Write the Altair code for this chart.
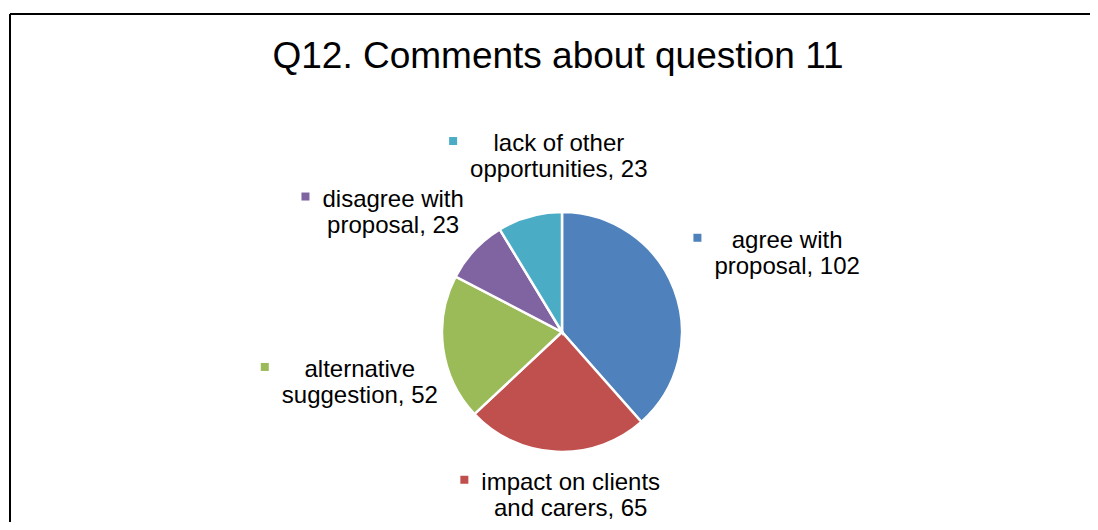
import math
import altair as alt
import pandas as pd

# ---- data ----
title = "Q12. Comments about question 11"
categories = ["agree with proposal", "impact on clients and carers", "alternative suggestion",
              "disagree with proposal", "lack of other opportunities"]
values = [102, 65, 52, 23, 23]
label_line1 = ["agree with", "impact on clients", "alternative", "disagree with", "lack of other"]
label_line2 = ["proposal, 102", "and carers, 65", "suggestion, 52", "proposal, 23", "opportunities, 23"]
colors = ["#4F81BD", "#C0504D", "#9BBB59", "#8064A2", "#4BACC6"]

# ---- layout (label placement as Excel's "best fit") ----
label_radius = [239, 162, 208, 208, 177]
label_nudge_deg = [1.1, -5.8, -5.8, -7.4, 14.6]
CX, CY, R = 554, 324, 120
FONT = "Liberation Sans, Arial, Helvetica, sans-serif"
LABEL_SIZE = 24
LINE_H = 26
WIDTH, HEIGHT = 1082, 514

# Arial / Liberation Sans advance widths (per 1000 em) to place the legend keys
W = {c: 556 for c in "abdeghnopqu0123456789"}
W.update({"c": 500, "k": 500, "s": 500, "v": 500, "x": 500, "y": 500, "z": 500,
          "f": 278, "t": 278, " ": 278, ",": 278, ".": 278,
          "i": 222, "j": 222, "l": 222, "r": 333, "m": 833, "w": 722})


def text_width(s, size):
    return sum(W.get(ch, 556) for ch in s) * size / 1000.0


total = sum(values)
cum = 0.0
rows = []
for i, (cat, v) in enumerate(zip(categories, values)):
    start = cum / total * 360
    cum += v
    end = cum / total * 360
    mid = (start + end) / 2 + label_nudge_deg[i]
    a = math.radians(mid)
    bx = CX + label_radius[i] * math.sin(a)
    by = CY - label_radius[i] * math.cos(a)
    maxw = max(text_width(label_line1[i], LABEL_SIZE), text_width(label_line2[i], LABEL_SIZE))
    rows.append({
        "idx": i, "cat": cat, "value": v,
        "label": label_line1[i] + "\n" + label_line2[i],
        "tx": bx, "ty": by - LINE_H / 2 + 9,
        "mx": bx - maxw / 2 - 17, "my": by - LINE_H / 2 - 1,
    })
df = pd.DataFrame(rows)

color = alt.Color("cat:N", scale=alt.Scale(domain=categories, range=colors), legend=None)

base = alt.Chart(df)

pie = base.mark_arc(outerRadius=R, stroke="white", strokeWidth=2.5).encode(
    theta=alt.Theta("value:Q", stack=True),
    order=alt.Order("idx:Q", sort="ascending"),
    color=color,
    x=alt.value(CX), y=alt.value(CY),
)

labels = base.mark_text(font=FONT, fontSize=LABEL_SIZE, lineBreak="\n", lineHeight=LINE_H,
                        align="center", baseline="alphabetic", color="black").encode(
    x=alt.X("tx:Q", scale=None), y=alt.Y("ty:Q", scale=None), text="label:N")

keys = base.mark_square(size=64, opacity=1).encode(
    x=alt.X("mx:Q", scale=None), y=alt.Y("my:Q", scale=None), color=color)

title_df = pd.DataFrame({"t": [title]})
title_mark = alt.Chart(title_df).mark_text(font=FONT, fontSize=37, align="center",
                                           baseline="alphabetic", color="black").encode(
    x=alt.value(550), y=alt.value(60), text="t:N")

border_top = alt.Chart(title_df).mark_rule(color="black", strokeWidth=2).encode(
    x=alt.value(2), x2=alt.value(WIDTH + 20), y=alt.value(6))
border_left = alt.Chart(title_df).mark_rule(color="black", strokeWidth=2).encode(
    x=alt.value(2), y=alt.value(6), y2=alt.value(HEIGHT + 20))

chart = alt.layer(border_top, border_left, pie, keys, labels, title_mark).properties(
    width=WIDTH, height=HEIGHT, padding=0, autosize=alt.AutoSizeParams(type="none"),
    background="white",
).configure_view(strokeWidth=0, stroke="transparent")

chart.save("out.html", embed_options={"renderer": "svg", "actions": False})
